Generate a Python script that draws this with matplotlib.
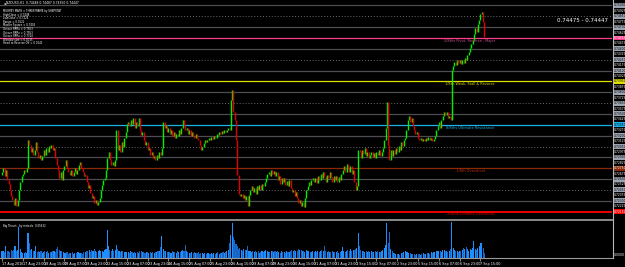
import matplotlib
matplotlib.use('Agg')
import matplotlib.pyplot as plt
from matplotlib.transforms import blended_transform_factory
import numpy as np

# ---------------- data ----------------
first_open = 0.7266
closes = [
    0.7270, 0.7275, 0.7264, 0.7272, 0.7259, 0.7253, 0.7245, 0.7237, 0.7231, 0.7224, 0.7234, 0.7223, 0.7231, 0.7245, 0.7256, 0.7264,
    0.7267, 0.7272, 0.7270, 0.7275, 0.7314, 0.7307, 0.7297, 0.7303, 0.7293, 0.7300, 0.7311, 0.7297, 0.7289, 0.7293, 0.7286, 0.7292,
    0.7300, 0.7293, 0.7303, 0.7297, 0.7306, 0.7303, 0.7307, 0.7300, 0.7303, 0.7289, 0.7279, 0.7272, 0.7262, 0.7270, 0.7259, 0.7272,
    0.7278, 0.7286, 0.7275, 0.7270, 0.7266, 0.7272, 0.7264, 0.7270, 0.7275, 0.7267, 0.7272, 0.7279, 0.7283, 0.7275, 0.7270, 0.7264,
    0.7266, 0.7256, 0.7248, 0.7252, 0.7241, 0.7234, 0.7237, 0.7227, 0.7231, 0.7224, 0.7228, 0.7234, 0.7245, 0.7252, 0.7259, 0.7262,
    0.7272, 0.7289, 0.7297, 0.7286, 0.7279, 0.7283, 0.7278, 0.7286, 0.7328, 0.7300, 0.7307, 0.7297, 0.7311, 0.7304, 0.7317, 0.7325,
    0.7336, 0.7339, 0.7333, 0.7342, 0.7336, 0.7345, 0.7331, 0.7339, 0.7333, 0.7345, 0.7328, 0.7321, 0.7325, 0.7314, 0.7307, 0.7311,
    0.7300, 0.7303, 0.7293, 0.7297, 0.7289, 0.7292, 0.7286, 0.7293, 0.7289, 0.7297, 0.7293, 0.7303, 0.7339, 0.7331, 0.7335, 0.7325,
    0.7331, 0.7322, 0.7328, 0.7319, 0.7325, 0.7317, 0.7322, 0.7319, 0.7328, 0.7322, 0.7331, 0.7342, 0.7333, 0.7328, 0.7331, 0.7322,
    0.7328, 0.7319, 0.7325, 0.7319, 0.7317, 0.7322, 0.7317, 0.7314, 0.7307, 0.7300, 0.7304, 0.7310, 0.7314, 0.7311, 0.7314, 0.7317,
    0.7314, 0.7318, 0.7315, 0.7319, 0.7317, 0.7322, 0.7321, 0.7325, 0.7322, 0.7326, 0.7324, 0.7328, 0.7325, 0.7328, 0.7331, 0.7328,
    0.7369, 0.7383, 0.7353, 0.7342, 0.7314, 0.7266, 0.7239, 0.7237, 0.7239, 0.7234, 0.7238, 0.7231, 0.7237, 0.7223, 0.7238, 0.7245,
    0.7250, 0.7242, 0.7248, 0.7239, 0.7250, 0.7245, 0.7252, 0.7245, 0.7253, 0.7250, 0.7256, 0.7262, 0.7267, 0.7270, 0.7264, 0.7272,
    0.7267, 0.7271, 0.7264, 0.7270, 0.7259, 0.7264, 0.7253, 0.7262, 0.7256, 0.7262, 0.7252, 0.7257, 0.7250, 0.7259, 0.7248, 0.7242,
    0.7245, 0.7237, 0.7242, 0.7234, 0.7227, 0.7231, 0.7223, 0.7228, 0.7221, 0.7234, 0.7245, 0.7250, 0.7256, 0.7252, 0.7259, 0.7262,
    0.7256, 0.7262, 0.7255, 0.7264, 0.7259, 0.7267, 0.7262, 0.7270, 0.7264, 0.7256, 0.7266, 0.7262, 0.7270, 0.7263, 0.7256, 0.7264,
    0.7259, 0.7264, 0.7256, 0.7263, 0.7259, 0.7267, 0.7272, 0.7278, 0.7270, 0.7281, 0.7275, 0.7270, 0.7278, 0.7267, 0.7272, 0.7256,
    0.7245, 0.7250, 0.7300, 0.7297, 0.7289, 0.7300, 0.7295, 0.7303, 0.7292, 0.7297, 0.7289, 0.7293, 0.7297, 0.7290, 0.7296, 0.7289,
    0.7297, 0.7293, 0.7300, 0.7292, 0.7297, 0.7303, 0.7314, 0.7331, 0.7366, 0.7307, 0.7286, 0.7300, 0.7292, 0.7300, 0.7295, 0.7303,
    0.7297, 0.7306, 0.7300, 0.7311, 0.7306, 0.7314, 0.7317, 0.7328, 0.7342, 0.7347, 0.7339, 0.7345, 0.7333, 0.7328, 0.7322, 0.7325,
    0.7317, 0.7314, 0.7317, 0.7313, 0.7315, 0.7313, 0.7317, 0.7314, 0.7318, 0.7314, 0.7317, 0.7313, 0.7315, 0.7319, 0.7328, 0.7333,
    0.7339, 0.7331, 0.7342, 0.7347, 0.7353, 0.7349, 0.7353, 0.7345, 0.7347, 0.7342, 0.7411, 0.7416, 0.7422, 0.7418, 0.7425, 0.7420,
    0.7425, 0.7419, 0.7425, 0.7420, 0.7427, 0.7425, 0.7431, 0.7436, 0.7441, 0.7447, 0.7452, 0.7460, 0.7469, 0.7463, 0.7474, 0.7480,
    0.7488, 0.7491, 0.7477, 0.7456,
]

volumes = [
    650, 700, 600, 1200, 650, 700, 600, 750, 650, 800, 1200, 700, 750, 3000, 900, 600,
    500, 450, 550, 500, 2400, 1500, 800, 900, 700, 650, 1200, 600, 700, 550, 650, 500,
    600, 700, 550, 650, 500, 600, 550, 700, 650, 600, 900, 1100, 800, 700, 650, 600,
    500, 450, 550, 400, 500, 450, 600, 400, 500, 450, 550, 600, 500, 450, 400, 550,
    600, 700, 650, 800, 600, 750, 700, 900, 650, 600, 700, 800, 650, 700, 600, 750,
    900, 2700, 1200, 800, 700, 900, 650, 800, 1300, 900, 700, 600, 650, 700, 600, 550,
    550, 600, 500, 650, 550, 500, 600, 450, 550, 500, 650, 700, 550, 600, 500, 550,
    600, 500, 550, 450, 600, 500, 550, 600, 700, 650, 1100, 2100, 900, 700, 650, 600,
    550, 600, 500, 650, 550, 600, 500, 700, 600, 550, 650, 800, 700, 1300, 700, 600,
    500, 450, 550, 500, 600, 450, 500, 550, 400, 450, 500, 350, 450, 400, 500, 450,
    400, 450, 350, 500, 400, 450, 550, 400, 500, 450, 550, 500, 600, 700, 800, 1500,
    2200, 3400, 2000, 1800, 1400, 1200, 900, 1000, 800, 700, 900, 750, 800, 1200, 700, 650,
    600, 700, 550, 650, 600, 700, 500, 550, 650, 600, 700, 750, 650, 600, 550, 650,
    700, 600, 650, 550, 700, 600, 500, 650, 550, 600, 500, 700, 600, 550, 650, 750,
    700, 800, 650, 700, 900, 750, 800, 650, 700, 600, 750, 650, 700, 600, 550, 650,
    600, 700, 550, 650, 600, 700, 800, 650, 1200, 700, 600, 650, 550, 600, 700, 600,
    550, 600, 650, 500, 600, 700, 1100, 650, 600, 700, 800, 650, 900, 700, 800, 750,
    900, 1000, 2400, 1200, 800, 700, 650, 600, 700, 600, 650, 550, 700, 600, 550, 650,
    600, 700, 550, 600, 650, 800, 1000, 1300, 3400, 1500, 2500, 900, 700, 500, 450, 400,
    350, 400, 300, 450, 500, 600, 700, 550, 600, 500, 450, 400, 350, 400, 300, 350,
    400, 350, 300, 400, 450, 350, 400, 500, 450, 400, 550, 500, 600, 550, 650, 700,
    650, 700, 600, 750, 800, 700, 650, 600, 700, 900, 3500, 1000, 800, 700, 650, 600,
    650, 700, 800, 1000, 900, 1100, 850, 700, 900, 800, 1000, 1700, 900, 800, 1000, 1200,
    1500, 1500, 1000, 500,
]

time_labels = ["17 Aug 2016", "17 Aug 23:00", "18 Aug 15:00", "19 Aug 07:00", "19 Aug 23:00",
               "22 Aug 15:00", "23 Aug 07:00", "23 Aug 23:00", "24 Aug 15:00", "25 Aug 07:00",
               "25 Aug 23:00", "26 Aug 15:00", "29 Aug 07:00", "29 Aug 23:00", "30 Aug 15:00",
               "31 Aug 07:00", "31 Aug 23:00", "1 Sep 15:00", "2 Sep 07:00", "2 Sep 23:00",
               "5 Sep 15:00", "6 Sep 07:00", "6 Sep 23:00", "7 Sep 15:00"]
bars_per_label = 16

levels = [0.7500, 0.7485, 0.7470, 0.7455, 0.7440, 0.7425, 0.7410, 0.7395, 0.7380, 0.7365,
          0.7350, 0.7335, 0.7320, 0.7305, 0.7290, 0.7275, 0.7260, 0.7245, 0.7230, 0.7215]
named_levels = {3: "2/8ths Pivot, Reverse - Major", 7: "1/8th Weak, Stall & Reverse",
                11: "8/8ths Ultimate Resistance", 15: "-1/8th Overshoot",
                19: "-2/8ths Extreme Overshoot"}
level_colors = {3: "#ff3c8c", 7: "#e0e000", 11: "#1ab0e8", 15: "#8c2a08", 19: "#ff0000"}
label_text_colors = {3: "#d0508c", 7: "#d8d800", 11: "#1ab0e8", 15: "#c03010", 19: "#e00000"}
dotted_levels = [1, 5, 9, 13, 17]

info_lines = ["MURREY MATH = THREEFRAME by SHEPSTAT", "HighClose = 0.7448", "LowClose = 0.7226",
              "Range = 0.0222", "Master Square = 0.7403", "Octave RRRx = 0.7553",
              "Octave RRRx = 0.7553", "Octave RRRx = 0.7324", "Window size = 0.0015",
              "Heed to Reverse Off = 0.0142"]
title_text = "NZDUSD,H1  0.74448 0.74487 0.74350 0.74447"
price_box_text = "0.74475 - 0.74447"
vol_title = "Big Thrust - by mrtools  0.05632"

# ---------------- figure ----------------
W, H = 625, 267
fig = plt.figure(figsize=(W / 100, H / 100), dpi=100, facecolor='black')
plot_right = 612 / W
ax = fig.add_axes([0, 1 - 219 / H, plot_right, 219 / H], facecolor='black')
axv = fig.add_axes([0, 1 - 258 / H, plot_right, 37 / H], facecolor='black')

n = len(closes)
xs = np.arange(n)
opens = np.array([first_open] + closes[:-1])
cl = np.array(closes)
up = cl >= opens
cols = np.where(up, '#00f000', '#e00000')
lo = np.minimum(opens, cl)
hi = np.maximum(opens, cl)

# grid / murrey levels
for k, lv in enumerate(levels):
    if k in level_colors:
        ax.axhline(lv, color=level_colors[k], lw=0.9 if k != 19 else 1.3, zorder=1)
    elif k in dotted_levels:
        ax.axhline(lv, color='#6a6a6a', lw=0.7, ls=(0, (1, 2)), zorder=1)
    else:
        ax.axhline(lv, color='#4c4c52', lw=0.9, zorder=1)

ax.vlines(xs, lo, hi, colors=cols, lw=1.0, zorder=3)

ax.set_xlim(-1.54, 469.2)
ax.set_ylim(0.72048, 0.75075)
ax.set_xticks([]); ax.set_yticks([])
for s in ax.spines.values():
    s.set_visible(False)

# level names
for k, name in named_levels.items():
    ax.text(470 / 612, levels[k] - 0.00012, name, transform=blended_transform_factory(ax.transAxes, ax.transData),
            color=label_text_colors[k], fontsize=2.5, ha='center', va='top', zorder=4)

# title & info text
ax.text(2 / 612, 1 - 3 / 219, "\u25B2", transform=ax.transAxes, color='white', fontsize=2, va='center', rotation=-90)
ax.text(6 / 612, 1 - 3 / 219, title_text, transform=ax.transAxes, color='white', fontsize=2.2, va='center')
for i, t in enumerate(info_lines):
    ax.text(3 / 612, 1 - (11 + i * 3.6) / 219, t, transform=ax.transAxes, color='white', fontsize=1.9, va='center')
ax.text(608 / 612, 1 - 21 / 219, price_box_text, transform=ax.transAxes, color='white', fontsize=4, ha='right', va='center')

# right price axis labels
tr = blended_transform_factory(fig.transFigure, ax.transData)
for k, lv in enumerate(levels):
    fc = level_colors.get(k, '#9aa4b0')
    tc = 'white' if k in (3, 15, 19) else 'black'
    ax.text(613.5 / W, lv, f"{lv:.5f}", transform=tr, fontsize=2.2, color=tc, va='center', ha='left',
            bbox=dict(boxstyle='square,pad=0.15', fc=fc, ec='none'), clip_on=False)
    if k + 1 < len(levels):
        mid = (lv + levels[k + 1]) / 2
        ax.text(613.5 / W, mid, f"{mid:.5f}", transform=tr, fontsize=2.2, color='white', va='center', ha='left', clip_on=False)

# volume
vcols = np.where(up, '#1e8fff', '#1766c8')
axv.bar(xs, volumes, width=0.8, color=vcols, linewidth=0)
axv.set_xlim(-1.54, 469.2)
axv.set_ylim(0, 3600)
axv.set_yticks([])
for s in ['top', 'left', 'right']:
    axv.spines[s].set_visible(False)
axv.spines['bottom'].set_color('#9a9a9a')
axv.spines['bottom'].set_linewidth(0.8)
tick_pos = [i * bars_per_label for i in range(len(time_labels))]
axv.set_xticks(tick_pos)
axv.set_xticklabels(time_labels)
axv.tick_params(axis='x', colors='#bbbbbb', labelcolor='white', labelsize=2.4, length=2, width=0.5, pad=0.8)
for lab in axv.get_xticklabels():
    lab.set_horizontalalignment('left')
axv.text(3 / 612, 0.92, vol_title, transform=axv.transAxes, color='white', fontsize=1.9, va='top')
fig.text(614 / W, 1 - 257 / H, "0.0000", color='white', fontsize=2.2, va='bottom')

# separators / axis lines
fig.add_artist(plt.Line2D([0, plot_right], [1 - 219.5 / H, 1 - 219.5 / H], color='#8a8a8a', lw=1.4))
fig.add_artist(plt.Line2D([plot_right + 0.5 / W, plot_right + 0.5 / W], [1 - 258 / H, 1], color='#b8b8b8', lw=0.8))

fig.savefig('out.png', dpi=100, facecolor='black')
